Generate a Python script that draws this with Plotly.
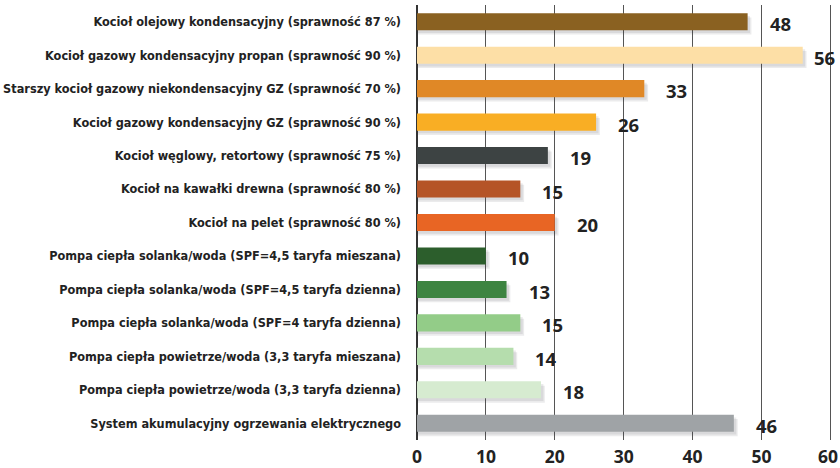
import plotly.graph_objects as go

categories = [
    "Kocioł olejowy kondensacyjny (sprawność 87 %)",
    "Kocioł gazowy kondensacyjny propan (sprawność 90 %)",
    "Starszy kocioł gazowy niekondensacyjny GZ (sprawność 70 %)",
    "Kocioł gazowy kondensacyjny GZ (sprawność 90 %)",
    "Kocioł węglowy, retortowy (sprawność 75 %)",
    "Kocioł na kawałki drewna (sprawność 80 %)",
    "Kocioł na pelet (sprawność 80 %)",
    "Pompa ciepła solanka/woda (SPF=4,5 taryfa mieszana)",
    "Pompa ciepła solanka/woda (SPF=4,5 taryfa dzienna)",
    "Pompa ciepła solanka/woda (SPF=4 taryfa dzienna)",
    "Pompa ciepła powietrze/woda (3,3 taryfa mieszana)",
    "Pompa ciepła powietrze/woda (3,3 taryfa dzienna)",
    "System akumulacyjny ogrzewania elektrycznego",
]
values = [48, 56, 33, 26, 19, 15, 20, 10, 13, 15, 14, 18, 46]
colors = ["#8A6121", "#FDDFA6", "#E08826", "#F9AE24", "#3D4343", "#B55427",
          "#E86524", "#2C5E2C", "#3D8441", "#93CC88", "#B5DDAD", "#D6EBD0", "#9FA3A6"]
x_ticks = [0, 10, 20, 30, 40, 50, 60]

BAR_W = 0.51
fig = go.Figure()
# soft shadow layers
for dx, dy, a in [(0.55, 0.13, 0.10), (0.35, 0.08, 0.10)]:
    fig.add_trace(go.Bar(
        y=categories, x=[v + dx for v in values], orientation="h",
        width=BAR_W, offset=-BAR_W / 2 + dy,
        marker=dict(color=f"rgba(60,60,70,{a})", line=dict(width=0)),
        hoverinfo="skip", showlegend=False,
    ))
fig.add_trace(go.Bar(
    y=categories, x=values, orientation="h",
    width=BAR_W, offset=-BAR_W / 2,
    marker=dict(color=colors, line=dict(width=0)),
    showlegend=False,
))

for c, v in zip(categories, values):
    fig.add_annotation(
        x=v, y=c, text=f"<b>{v}</b>", showarrow=False,
        xanchor="left", yanchor="middle", xshift=9 if v > 52 else 20, yshift=-2,
        font=dict(family="Open Sans", size=18.5, color="#222222"),
    )

# last tick label nudged left so it stays inside the picture, as in the original
tick_text = [f"<b>{t}</b>" for t in x_ticks]
tick_text[-1] = tick_text[-1] + "\u00a0"

fig.update_layout(
    width=840, height=468,
    margin=dict(l=417, r=8, t=5, b=28, autoexpand=False),
    barmode="overlay",
    plot_bgcolor="white", paper_bgcolor="white",
)
fig.update_xaxes(
    range=[0, 60.25], tickvals=x_ticks, ticktext=tick_text,
    showgrid=True, gridcolor="#555555", gridwidth=1,
    zeroline=True, zerolinecolor="#333333", zerolinewidth=2,
    showline=False, ticks="", automargin=False, ticklabelstandoff=4,
    ticklabeloverflow="allow",
    tickfont=dict(family="Open Sans", size=17.5, color="#222222"),
)
fig.update_yaxes(
    autorange="reversed", showgrid=False, ticks="", ticklabelstandoff=15,
    automargin=False,
    tickfont=dict(family="DejaVu Sans Condensed, DejaVu Sans", size=12.6, color="#222222"),
    tickvals=categories, ticktext=[f"<b>{c}</b>" for c in categories],
)
fig.write_html("out.html", config={"displayModeBar": False},
               post_script="document.body.style.margin='0';document.body.style.overflow='hidden';")
